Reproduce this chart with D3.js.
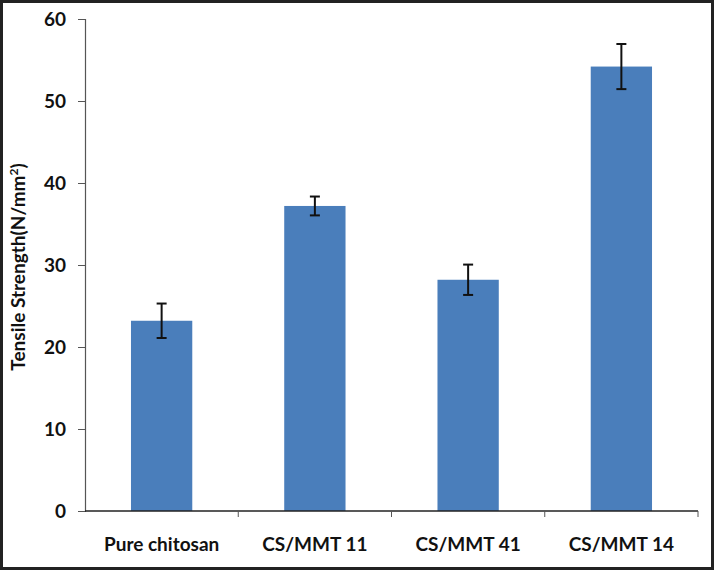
<!DOCTYPE html>
<html>
<head>
<meta charset="utf-8">
<script src="https://cdn.jsdelivr.net/npm/d3@7"></script>
<style>
	html, body { margin: 0; padding: 0; background: #fff; }
	svg { display: block; }
	.tick text { font-family: Lato, "Open Sans", sans-serif; font-weight: bold; fill: #111; }
</style>
</head>
<body>
<div id="chart"></div>
<script>
// tensile strength bar chart
var categories = ["Pure chitosan", "CS/MMT 11", "CS/MMT 41", "CS/MMT 14"];
var strength = [23.2, 37.2, 28.2, 54.2];
var errors = [2.1, 1.15, 1.85, 2.75];
var yTicks = [0, 10, 20, 30, 40, 50, 60];

(function() {
	var width = 714, height = 570;
	var plotLeft = 85, plotRight = 698, plotTop = 19, plotBottom = 511;

	var svg = d3.select("#chart").append("svg")
		.attr("width", width)
		.attr("height", height);

	svg.append("rect")
		.attr("x", 1.5).attr("y", 1.5)
		.attr("width", width - 3).attr("height", height - 3)
		.attr("fill", "#fff")
		.attr("stroke", "#222")
		.attr("stroke-width", 3);

	var x = d3.scaleBand().domain(categories).range([plotLeft, plotRight]).padding(0);
	var y = d3.scaleLinear().domain([0, 60]).range([plotBottom, plotTop]);

	var barW = x.bandwidth() * 0.4;
	var mid = function(d) { return x(d) + x.bandwidth() / 2; };

	// bars
	svg.selectAll("rect.bar")
		.data(categories).enter()
		.append("rect")
			.attr("class", "bar")
			.attr("x", function(d) { return mid(d) - barW / 2; })
			.attr("y", function(d, i) { return y(strength[i]); })
			.attr("width", barW)
			.attr("height", function(d, i) { return y(0) - y(strength[i]); })
			.attr("fill", "#4a7ebb");

	// y axis
	var yAxis = svg.append("g")
		.attr("transform", "translate(" + plotLeft + ",0)")
		.call(d3.axisLeft(y).tickValues(yTicks).tickSize(7).tickPadding(12));
	yAxis.select(".domain").attr("stroke", "#555").attr("stroke-width", 1.2);
	yAxis.selectAll(".tick line").attr("stroke", "#555");
	yAxis.selectAll(".tick text").style("font-size", "19px");

	// x axis, ticks on category borders
	var xAxis = svg.append("g")
		.attr("transform", "translate(0," + plotBottom + ")");
	xAxis.append("line")
		.attr("x1", plotLeft).attr("x2", plotRight)
		.attr("stroke", "#222").attr("stroke-width", 1.5);
	xAxis.selectAll("line.tk")
		.data(categories).enter()
		.append("line")
			.attr("class", "tk")
			.attr("x1", function(d) { return x(d) + x.step(); })
			.attr("x2", function(d) { return x(d) + x.step(); })
			.attr("y1", 0).attr("y2", 6)
			.attr("stroke", "#555");
	xAxis.selectAll("text")
		.data(categories).enter()
		.append("text")
			.attr("x", mid)
			.attr("y", 40)
			.attr("text-anchor", "middle")
			.style("font-family", "Lato, 'Open Sans', sans-serif")
			.style("font-weight", "bold")
			.style("font-size", "19px")
			.attr("fill", "#111")
			.text(function(d) { return d; });

	// error bars
	var cap = 10;
	var errG = svg.selectAll("g.err")
		.data(categories).enter()
		.append("g")
			.attr("class", "err")
			.attr("stroke", "#111")
			.attr("stroke-width", 2);
	errG.append("line")
		.attr("x1", mid).attr("x2", mid)
		.attr("y1", function(d, i) { return y(strength[i] + errors[i]); })
		.attr("y2", function(d, i) { return y(strength[i] - errors[i]); });
	errG.append("line")
		.attr("x1", function(d) { return mid(d) - cap / 2; })
		.attr("x2", function(d) { return mid(d) + cap / 2; })
		.attr("y1", function(d, i) { return y(strength[i] + errors[i]); })
		.attr("y2", function(d, i) { return y(strength[i] + errors[i]); });
	errG.append("line")
		.attr("x1", function(d) { return mid(d) - cap / 2; })
		.attr("x2", function(d) { return mid(d) + cap / 2; })
		.attr("y1", function(d, i) { return y(strength[i] - errors[i]); })
		.attr("y2", function(d, i) { return y(strength[i] - errors[i]); });

	// y axis title
	var yTitle = svg.append("text")
		.attr("transform", "translate(25,267) rotate(-90)")
		.attr("text-anchor", "middle")
		.style("font-family", "Lato, 'Open Sans', sans-serif")
		.style("font-weight", "bold")
		.style("font-size", "19px")
		.attr("fill", "#111");
	yTitle.append("tspan").text("Tensile Strength(N/mm");
	yTitle.append("tspan").attr("baseline-shift", "super").style("font-size", "12px").text("2");
	yTitle.append("tspan").text(")");
})();
</script>
</body>
</html>
